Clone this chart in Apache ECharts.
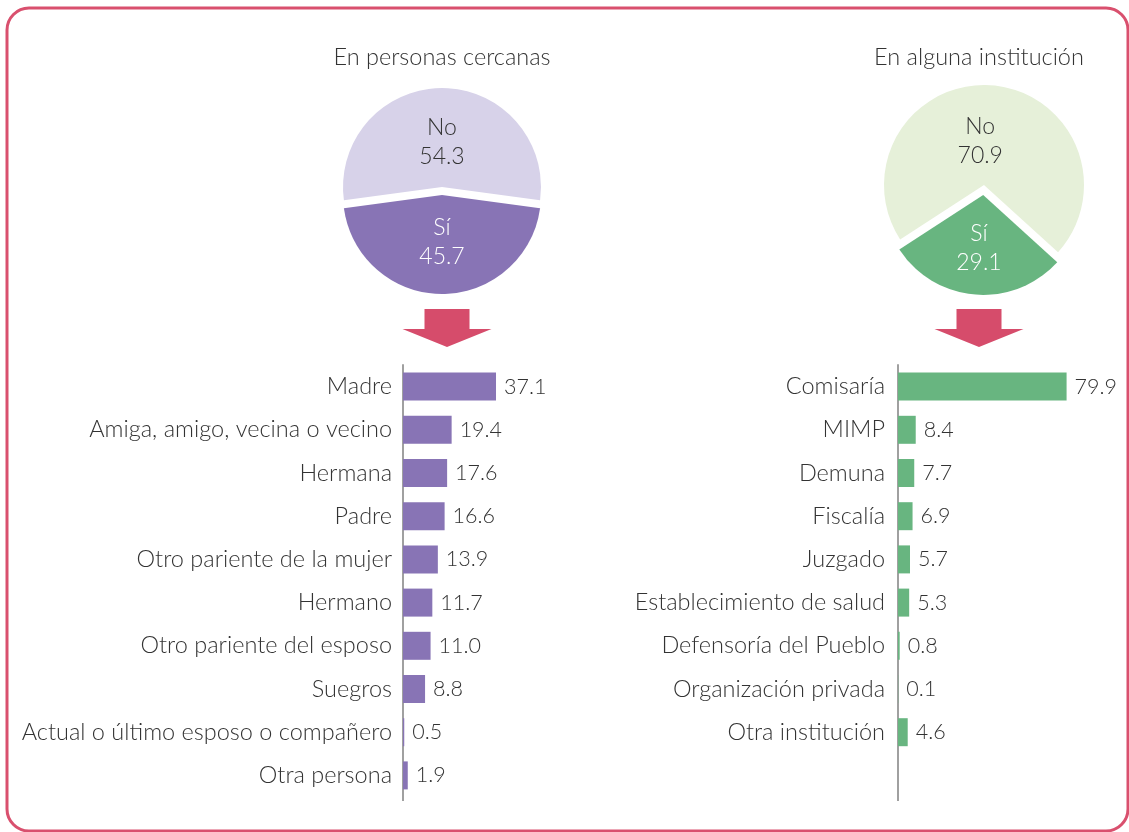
<!DOCTYPE html>
<html>
<head>
<meta charset="utf-8">
<script src="https://cdn.jsdelivr.net/npm/echarts@6/dist/echarts.min.js"></script>
<style>
html,body{margin:0;padding:0;background:#fff;}
#c{width:1129px;height:832px;}
</style>
</head>
<body>
<div id="c"></div>
<script>
// ---- data ----
const pieTitles = ['En personas cercanas', 'En alguna institución'];
const pieNames = ['No', 'Sí'];
const pieLeftValues = [54.3, 45.7];
const pieRightValues = [70.9, 29.1];

const leftCategories = ['Madre', 'Amiga, amigo, vecina o vecino', 'Hermana', 'Padre', 'Otro pariente de la mujer', 'Hermano', 'Otro pariente del esposo', 'Suegros', 'Actual o último esposo o compañero', 'Otra persona'];
const leftValues = [37.1, 19.4, 17.6, 16.6, 13.9, 11.7, 11.0, 8.8, 0.5, 1.9];

const rightCategories = ['Comisaría', 'MIMP', 'Demuna', 'Fiscalía', 'Juzgado', 'Establecimiento de salud', 'Defensoría del Pueblo', 'Organización privada', 'Otra institución'];
const rightValues = [79.9, 8.4, 7.7, 6.9, 5.7, 5.3, 0.8, 0.1, 4.6];

// ---- styles ----
const FONT = 'Lato';
const TXT = '#333333';
const purpleDark = '#8874b5', purpleLight = '#d7d2e9';
const greenDark = '#68b580', greenLight = '#e6f0d9';
const red = '#d64c6b';
const axisGray = '#a0a0a0';

const chart = echarts.init(document.getElementById('c'), null, {renderer: 'canvas'});

function fmt(v) { return v.toFixed(1); }

// spacer line heights (before / after) to nudge the inside labels toward the centre
function pieData(values, colors, labelColors, spacers, hpad) {
  return values.map((v, i) => {
    const sp = spacers[i];
    return {
      name: pieNames[i],
      value: v,
      selected: i === 1,
      itemStyle: {color: colors[i]},
      select: {itemStyle: {color: colors[i]}},
      label: {
        color: labelColors[i],
        padding: hpad[i],
        formatter: p => (sp[0] ? '{s0| }\n' : '') + '{t|' + p.name + '}\n{t|' + fmt(p.value) + '}' + (sp[1] ? '\n{s1| }' : ''),
        rich: {
          t: {color: labelColors[i], fontSize: 23, fontFamily: FONT, fontWeight: 300, lineHeight: 29},
          s0: {fontSize: 8, lineHeight: sp[0] || 1},
          s1: {fontSize: 8, lineHeight: sp[1] || 1}
        }
      }
    };
  });
}

const catLabel = {color: TXT, fontSize: 23.5, fontFamily: FONT, fontWeight: 300};
const valLabel = {show: true, position: 'right', distance: 8, color: TXT, fontSize: 21.5, fontFamily: FONT, fontWeight: 300,
                  formatter: p => fmt(p.value)};
const pieLabel = {position: 'inside', fontSize: 23, fontFamily: FONT, fontWeight: 300, lineHeight: 29};

function arrow(cx) {
  return {
    type: 'polygon',
    shape: {points: [[cx - 22.5, 309], [cx + 22.5, 309], [cx + 22.5, 329], [cx + 44.5, 329], [cx, 347], [cx - 44.5, 329], [cx - 22.5, 329]]},
    style: {fill: red}
  };
}

const titleStyle = {color: TXT, fontSize: 23.5, fontWeight: 300, fontFamily: FONT};

const option = {
  animation: false,
  backgroundColor: '#ffffff',
  title: [
    {text: pieTitles[0], left: 437, top: 40, textAlign: 'center', textStyle: titleStyle},
    {text: pieTitles[1], left: 974, top: 40, textAlign: 'center', textStyle: titleStyle}
  ],
  grid: [
    {left: 403, top: 365, width: 250.7, height: 432},
    {left: 898, top: 365, width: 211, height: 388.8}
  ],
  xAxis: [
    {gridIndex: 0, type: 'value', min: 0, max: 100, show: false},
    {gridIndex: 1, type: 'value', min: 0, max: 100, show: false}
  ],
  yAxis: [
    {gridIndex: 0, type: 'category', data: leftCategories, inverse: true,
     axisLine: {show: true, lineStyle: {color: axisGray, width: 2}},
     axisTick: {show: false}, splitLine: {show: false},
     axisLabel: Object.assign({margin: 11}, catLabel)},
    {gridIndex: 1, type: 'category', data: rightCategories, inverse: true,
     axisLine: {show: true, lineStyle: {color: axisGray, width: 2}},
     axisTick: {show: false}, splitLine: {show: false},
     axisLabel: Object.assign({margin: 13}, catLabel)}
  ],
  series: [
    {
      type: 'pie', center: [442, 187], radius: 99,
      startAngle: 187.74, clockwise: true,
      selectedMode: 'single', selectedOffset: 8,
      emphasis: {disabled: true},
      label: pieLabel,
      labelLine: {show: false},
      data: pieData(pieLeftValues, [purpleLight, purpleDark], [TXT, '#ffffff'], [[16, 0], [0, 11]], [0, 0])
    },
    {
      type: 'pie', center: [984, 185], radius: 100,
      startAngle: 213, clockwise: true,
      selectedMode: 'single', selectedOffset: 10,
      emphasis: {disabled: true},
      label: pieLabel,
      labelLine: {show: false},
      data: pieData(pieRightValues, [greenLight, greenDark], [TXT, '#ffffff'], [[18, 0], [0, 0]], [[0, 16, 0, 0], 0])
    },
    {
      type: 'bar', xAxisIndex: 0, yAxisIndex: 0, data: leftValues, barWidth: 28,
      itemStyle: {color: purpleDark},
      emphasis: {disabled: true},
      label: valLabel
    },
    {
      type: 'bar', xAxisIndex: 1, yAxisIndex: 1, data: rightValues, barWidth: 28,
      itemStyle: {color: greenDark},
      emphasis: {disabled: true},
      label: valLabel
    }
  ],
  graphic: [
    {type: 'rect', shape: {x: 7, y: 8, width: 1121, height: 823, r: 22},
     style: {fill: null, stroke: '#d9506e', lineWidth: 3}, z: 100},
    arrow(447),
    arrow(979),
    {type: 'line', shape: {x1: 403, y1: 796, x2: 403, y2: 801}, style: {stroke: axisGray, lineWidth: 2}},
    {type: 'line', shape: {x1: 898, y1: 753, x2: 898, y2: 801}, style: {stroke: axisGray, lineWidth: 2}}
  ]
};
chart.setOption(option);
</script>
</body>
</html>
